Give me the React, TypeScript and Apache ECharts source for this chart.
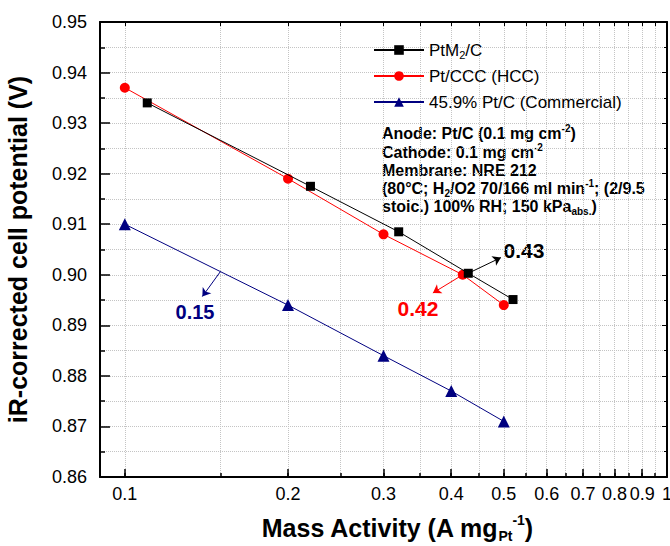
import React, { useEffect, useRef } from 'react';
import * as echarts from 'echarts';

// ---------- data ----------
const seriesNames = ['PtM2/C', 'Pt/CCC (HCC)', '45.9% Pt/C (Commercial)'];
const ptm2X = [0.11, 0.22, 0.32, 0.43, 0.52];
const ptm2Y = [0.934, 0.9175, 0.9085, 0.9003, 0.8951];
const hccX = [0.1, 0.2, 0.3, 0.42, 0.5];
const hccY = [0.937, 0.919, 0.908, 0.9, 0.894];
const commX = [0.1, 0.2, 0.3, 0.4, 0.5];
const commY = [0.91, 0.894, 0.884, 0.877, 0.871];

const xMajorTicks = [0.1, 0.2, 0.3, 0.4, 0.5, 0.6, 0.7, 0.8, 0.9, 1];
const xMinorTicks = [0.15, 0.25, 0.35, 0.45, 0.55, 0.65, 0.75, 0.85, 0.95];
const X_MIN = 0.09;
const X_MAX = 1;
const Y_MIN = 0.86;
const Y_MAX = 0.95;
const Y_STEP = 0.01;

// annotation arrows: [fromX, fromY, toX, toY]
const arrow015 = [0.15, 0.9006, 0.139, 0.8957];
const arrow043 = [0.43, 0.9003, 0.494, 0.9034];
const arrow042 = [0.42, 0.9, 0.37, 0.8964];
const annotationLabels = ['0.15', '0.43', '0.42'];

const FONT = 'Liberation Sans, Arial, Helvetica, sans-serif';
const BLACK = '#000000';
const RED = '#ff0000';
const NAVY = '#000080';
const GRID = '#c4c4c4';

const zip = (xs: number[], ys: number[]) => xs.map((x, i) => [x, ys[i]]);
const lg = (v: number) => Math.log10(v);

function arrowLine(a: number[], color: string) {
  return {
    silent: true,
    symbol: ['none', 'arrow'],
    symbolSize: 8,
    label: { show: false },
    emphasis: { disabled: true },
    lineStyle: { color, width: 1, type: 'solid' },
    data: [[{ coord: [a[0], a[1]] }, { coord: [a[2], a[3]] }]],
  };
}

export default function App() {
  const ref = useRef<HTMLDivElement>(null);

  useEffect(() => {
    if (!ref.current) return;
    const chart = echarts.init(ref.current, null, { renderer: 'svg' });

    const logMin = lg(X_MIN);
    const logMax = lg(X_MAX);
    const allX = [...xMajorTicks, ...xMinorTicks].map(lg);
    const majorX = xMajorTicks.map(lg);

    const richSmall = {
      b: { fontSize: 16, fontWeight: 'bold', fontFamily: FONT, fill: BLACK, lineHeight: 20 },
      sup: { fontSize: 10, fontWeight: 'bold', fontFamily: FONT, fill: BLACK, lineHeight: 10, verticalAlign: 'top' },
      sub: { fontSize: 10, fontWeight: 'bold', fontFamily: FONT, fill: BLACK, lineHeight: 10, verticalAlign: 'bottom' },
    };
    const infoLines = [
      '{b|Anode: Pt/C (0.1 mg cm}{sup|-2}{b|)}',
      '{b|Cathode: 0.1 mg cm}{sup|-2}',
      '{b|Membrane: NRE 212}',
      '{b|(80°C; H}{sub|2}{b|/O2 70/166 ml min}{sup|-1}{b|; (2/9.5}',
      '{b|stoic.) 100% RH; 150 kPa}{sub|abs.}{b|)}',
    ];
    const infoY = [133, 152, 170, 188, 206];

    const option: any = {
      animation: false,
      backgroundColor: '#ffffff',
      grid: { left: 100, right: 3, top: 22, bottom: 69, containLabel: false, outerBoundsMode: 'none' },
      legend: {
        orient: 'vertical',
        left: 368,
        top: 35,
        itemWidth: 50,
        itemHeight: 12,
        itemGap: 6,
        data: seriesNames,
        formatter: (name: string) =>
          name === 'PtM2/C' ? '{n|PtM}{s|2}{n|/C}' : `{n|${name}}`,
        textStyle: {
          fontSize: 17,
          fontFamily: FONT,
          color: BLACK,
          lineHeight: 20,
          rich: {
            n: { fontSize: 17, fontFamily: FONT, color: BLACK, lineHeight: 20 },
            s: { fontSize: 11, fontFamily: FONT, color: BLACK, lineHeight: 11, verticalAlign: 'bottom' },
          },
        },
      },
      xAxis: [
        {
          type: 'log',
          min: X_MIN,
          max: X_MAX,
          logBase: 10,
          show: false,
        },
        {
          type: 'value',
          min: logMin,
          max: logMax,
          position: 'bottom',
          axisLine: { show: true, onZero: false, lineStyle: { color: BLACK, width: 2 } },
          axisTick: { show: true, inside: true, length: 8, customValues: majorX, lineStyle: { color: BLACK, width: 1.5 } },
          axisLabel: {
            show: true,
            customValues: majorX,
            showMinLabel: true,
            showMaxLabel: true,
            margin: 8,
            fontSize: 18,
            fontFamily: FONT,
            color: BLACK,
            formatter: (v: number) => {
              const r = Math.round(Math.pow(10, v) * 10) / 10;
              return r >= 1 ? '1' : r.toFixed(1);
            },
          },
          splitLine: { show: false },
        },
        {
          type: 'value',
          min: logMin,
          max: logMax,
          position: 'bottom',
          axisLine: { show: false, onZero: false },
          axisTick: { show: true, inside: true, length: 4, customValues: allX, lineStyle: { color: BLACK, width: 1.5 } },
          axisLabel: { show: false },
          splitLine: { show: true, lineStyle: { color: GRID, width: 1, type: 'dotted' } },
        },
        {
          type: 'value',
          min: logMin,
          max: logMax,
          position: 'top',
          axisLine: { show: true, onZero: false, lineStyle: { color: BLACK, width: 2 } },
          axisTick: { show: true, inside: true, length: 4, customValues: allX, lineStyle: { color: BLACK, width: 1 } },
          axisLabel: { show: false },
          splitLine: { show: false },
        },
      ],
      yAxis: [
        {
          type: 'value',
          min: Y_MIN,
          max: Y_MAX,
          interval: Y_STEP,
          position: 'left',
          name: 'iR-corrected cell potential (V)',
          nameLocation: 'middle',
          nameGap: 70,
          nameRotate: 90,
          nameTextStyle: { fontSize: 25, fontWeight: 'bold', fontFamily: FONT, color: BLACK },
          axisLine: { show: true, onZero: false, lineStyle: { color: BLACK, width: 2 } },
          axisTick: { show: true, inside: true, length: 10, lineStyle: { color: BLACK, width: 1.5 } },
          minorTick: { show: true, splitNumber: 2, length: 5, lineStyle: { color: BLACK, width: 1.5 } },
          axisLabel: {
            fontSize: 18,
            fontFamily: FONT,
            color: BLACK,
            margin: 13,
            formatter: (v: number) => v.toFixed(2),
          },
          splitLine: { show: true, lineStyle: { color: GRID, width: 1, type: 'dotted' } },
          minorSplitLine: { show: true, lineStyle: { color: GRID, width: 1, type: 'dotted' } },
        },
        {
          type: 'value',
          min: Y_MIN,
          max: Y_MAX,
          interval: Y_STEP,
          position: 'right',
          axisLine: { show: true, onZero: false, lineStyle: { color: BLACK, width: 2 } },
          axisTick: { show: true, inside: true, length: 5, lineStyle: { color: BLACK, width: 1 } },
          minorTick: { show: true, splitNumber: 2, length: 3, lineStyle: { color: BLACK, width: 1 } },
          axisLabel: { show: false },
          splitLine: { show: false },
        },
      ],
      series: [
        {
          name: seriesNames[0],
          type: 'line',
          xAxisIndex: 0,
          yAxisIndex: 0,
          data: zip(ptm2X, ptm2Y),
          symbol: 'rect',
          symbolSize: 9,
          itemStyle: { color: BLACK },
          lineStyle: { color: BLACK, width: 1 },
          z: 5,
          markLine: arrowLine(arrow043, BLACK),
        },
        {
          name: seriesNames[1],
          type: 'line',
          xAxisIndex: 0,
          yAxisIndex: 0,
          data: zip(hccX, hccY),
          symbol: 'circle',
          symbolSize: 10,
          itemStyle: { color: RED },
          lineStyle: { color: RED, width: 1 },
          z: 4,
          markLine: arrowLine(arrow042, RED),
        },
        {
          name: seriesNames[2],
          type: 'line',
          xAxisIndex: 0,
          yAxisIndex: 0,
          data: zip(commX, commY),
          symbol: 'triangle',
          symbolSize: 12,
          itemStyle: { color: NAVY },
          lineStyle: { color: NAVY, width: 1 },
          z: 3,
          markLine: arrowLine(arrow015, NAVY),
        },
      ],
      graphic: [
        ...infoLines.map((t, i) => ({
          type: 'text',
          x: 382,
          y: infoY[i],
          silent: true,
          style: {
            text: t,
            rich: richSmall,
            fill: BLACK,
            fontFamily: FONT,
            fontWeight: 'bold',
            fontSize: 16,
            align: 'left',
            verticalAlign: 'middle',
          },
        })),
        {
          type: 'text',
          x: 195,
          y: 312,
          silent: true,
          style: { text: annotationLabels[0], fill: NAVY, fontSize: 20, fontWeight: 'bold', fontFamily: FONT, align: 'center', verticalAlign: 'middle' },
        },
        {
          type: 'text',
          x: 524,
          y: 250,
          silent: true,
          style: { text: annotationLabels[1], fill: BLACK, fontSize: 21, fontWeight: 'bold', fontFamily: FONT, align: 'center', verticalAlign: 'middle' },
        },
        {
          type: 'text',
          x: 418,
          y: 308,
          silent: true,
          style: { text: annotationLabels[2], fill: RED, fontSize: 21, fontWeight: 'bold', fontFamily: FONT, align: 'center', verticalAlign: 'middle' },
        },
        {
          type: 'text',
          x: 397,
          y: 528,
          silent: true,
          style: {
            text: '{b|Mass Activity (A mg}{sub|Pt}{sup|-1}{b|)}',
            rich: {
              b: { fontSize: 25, fontWeight: 'bold', fontFamily: FONT, fill: BLACK, lineHeight: 30 },
              sub: { fontSize: 14, fontWeight: 'bold', fontFamily: FONT, fill: BLACK, lineHeight: 14, verticalAlign: 'bottom' },
              sup: { fontSize: 14, fontWeight: 'bold', fontFamily: FONT, fill: BLACK, lineHeight: 14, verticalAlign: 'top' },
            },
            fill: BLACK,
            fontFamily: FONT,
            fontWeight: 'bold',
            fontSize: 25,
            align: 'center',
            verticalAlign: 'middle',
          },
        },
      ],
    };

    chart.setOption(option);
    return () => chart.dispose();
  }, []);

  return (
    <div
      ref={ref}
      style={{ position: 'fixed', left: 0, top: 0, width: 670, height: 546, background: '#fff' }}
    />
  );
}
